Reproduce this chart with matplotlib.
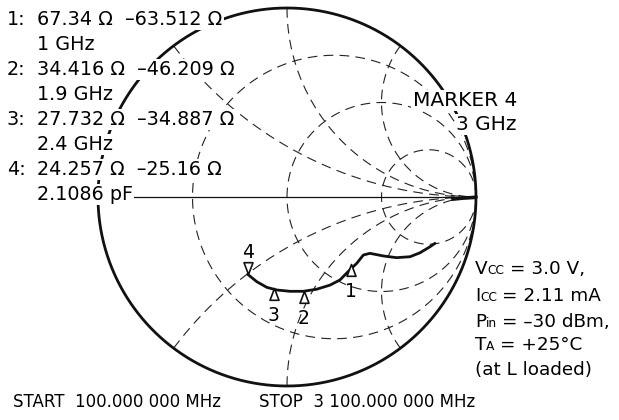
import numpy as np
import matplotlib
matplotlib.use("Agg")
import matplotlib.pyplot as plt
from matplotlib.path import Path

plt.rcParams['font.family'] = 'DejaVu Sans'
plt.rcParams['lines.scale_dashes'] = False

W, H = 619, 420
Z0 = 50.0

# marker readouts (ohms)
marker_ids = ['1', '2', '3', '4']
marker_freq = ['1 GHz', '1.9 GHz', '2.4 GHz', '3 GHz']
marker_r = [67.34, 34.416, 27.732, 24.257]
marker_x = [-63.512, -46.209, -34.887, -25.16]
marker4_cap = '2.1086 pF'

# measured S11 trace, low to high frequency (reflection coefficient)
trace_start_re = [0.995, 0.93, 0.87]
trace_start_im = [-0.002, -0.006, -0.012]
trace_re = [0.783, 0.757, 0.704, 0.651, 0.580, 0.510, 0.439, 0.404, 0.369,
            0.333, 0.280, 0.228, 0.157, 0.086, 0.016, -0.054, -0.107,
            -0.160, -0.208]
trace_im = [-0.245, -0.263, -0.295, -0.316, -0.321, -0.312, -0.298, -0.307,
            -0.351, -0.385, -0.439, -0.466, -0.488, -0.499, -0.499, -0.492,
            -0.478, -0.448, -0.409]

# Smith chart grid
grid_r = [1 / 3, 1, 3]
grid_x = [0.5, 1, 2]

fig = plt.figure(figsize=(W / 100, H / 100), dpi=100)
ax = fig.add_axes([0, 0, 1, 1])
cx, cy, R = 287, 197, 189
ax.set_xlim(-cx / R, (W - cx) / R)
ax.set_ylim((cy - H) / R, cy / R)
ax.axis('off')

dash = (0, (7, 4.5))
t = np.linspace(0, 2 * np.pi, 721)
for r in grid_r:
    c, rad = r / (1 + r), 1 / (1 + r)
    ax.plot(c + rad * np.cos(t), rad * np.sin(t), color='#222222', lw=0.8,
            ls=dash, zorder=1)
rr = np.concatenate([[0], np.geomspace(1e-3, 1e4, 800)])
for x in grid_x:
    for s in (1, -1):
        g = (rr + 1j * s * x - 1) / (rr + 1j * s * x + 1)
        ax.plot(g.real, g.imag, color='#222222', lw=0.8, ls=dash, zorder=1)

ax.plot(np.cos(t), np.sin(t), color='#111111', lw=2.0, zorder=2)
ax.plot([-1, 1], [0, 0], color='#111111', lw=0.9, zorder=2)

ax.plot(trace_start_re, trace_start_im, color='#111111', lw=2.6, zorder=3,
        solid_capstyle='butt')
ax.plot(trace_re, trace_im, color='#111111', lw=2.0, zorder=3,
        solid_capstyle='round', solid_joinstyle='round')

# marker triangles, apex on the marker point
up = Path([(0, 0), (-0.38, -1), (0.38, -1), (0, 0)],
          [Path.MOVETO, Path.LINETO, Path.LINETO, Path.CLOSEPOLY])
down = Path([(0, 0), (-0.38, 1), (0.38, 1), (0, 0)],
            [Path.MOVETO, Path.LINETO, Path.LINETO, Path.CLOSEPOLY])
for i, (mr, mx) in enumerate(zip(marker_r, marker_x)):
    z = (mr + 1j * mx) / Z0
    g = (z - 1) / (z + 1)
    last = i == len(marker_r) - 1
    ax.plot(g.real, g.imag, marker=down if last else up, ms=17,
            mfc='white', mec='#111111', mew=1.2, zorder=4)
    ax.annotate(marker_ids[i], (g.real, g.imag),
                xytext=(0, 12 if last else -13), textcoords='offset points',
                ha='center', va='baseline' if last else 'top', fontsize=13.5)

box = dict(fc='white', ec='none', pad=1.0)


def put(x, y, s, size, ha='left', bbox=box):
    return fig.text(x / W, 1 - y / H, s, fontsize=size, ha=ha,
                    va='baseline', bbox=bbox, zorder=5)


rows = []
for i in range(4):
    rows.append((f'{marker_ids[i]}:', f'{marker_r[i]:g} \u03a9  '
                 f'\u2013{abs(marker_x[i]):g} \u03a9'))
    rows.append(('', marker_freq[i] if i < 3 else marker4_cap))
for k, (head, body) in enumerate(rows):
    y = 25 + 25 * k
    if head:
        put(7, y, head, 13.8)
    put(37, y, body, 13.8)

put(517, 106, 'MARKER 4', 14.5, ha='right')
put(517, 130, marker_freq[3], 14.5, ha='right')

put(13, 407, 'START  100.000 000 MHz', 12, bbox=None)
put(259, 407, 'STOP  3 100.000 000 MHz', 12, bbox=None)

renderer = fig.canvas.get_renderer()


def put_runs(x, y, runs):
    for s, size, gap in runs:
        txt = fig.text(x / W, 1 - y / H, s, fontsize=size, va='baseline')
        x += txt.get_window_extent(renderer=renderer).width + gap


cond = [
    [('V', 13.2, 0), ('CC', 8.8, 5), ('= 3.0 V,', 13.2, 0)],
    [('I', 13.2, 0), ('CC', 8.8, 5), ('= 2.11 mA', 13.2, 0)],
    [('P', 13.2, 0), ('in', 8.8, 5), ('= \u201330 dBm,', 13.2, 0)],
    [('T', 13.2, 0), ('A', 8.8, 5), ('= +25\u00b0C', 13.2, 0)],
    [('(at L loaded)', 13.2, 0)],
]
for runs, y in zip(cond, [274, 301, 327, 350, 375]):
    put_runs(475, y, runs)

fig.savefig('out.png', dpi=100)
